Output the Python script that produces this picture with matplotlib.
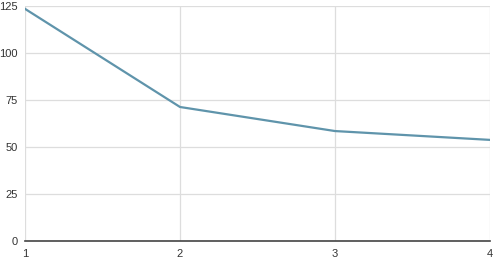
import matplotlib.pyplot as plt

x = [1, 2, 3, 4]
y = [123.5, 71.3, 58.5, 53.8]
yticks = [0, 25, 50, 75, 100, 125]

fig = plt.figure(figsize=(5, 2.62), dpi=100)
ax = fig.add_axes([0.05, 0.08, 0.93, 0.897])
ax.plot(x, y, color='#5f94ab', linewidth=1.6)
ax.set_xlim(1, 4)
ax.set_ylim(0, 125)
ax.set_xticks(x)
ax.set_yticks(yticks)
ax.grid(True, color='#dddddd', linewidth=0.9)
ax.set_axisbelow(True)
for s in ['top', 'right', 'left']:
    ax.spines[s].set_visible(False)
ax.spines['bottom'].set_color('#444444')
ax.spines['bottom'].set_linewidth(1.2)
ax.tick_params(length=0, labelsize=8, colors='#333333')
ax.tick_params(axis='x', pad=6)
ax.tick_params(axis='y', pad=5)
plt.setp(ax.get_xticklabels(), fontfamily='Liberation Sans')
plt.setp(ax.get_yticklabels(), fontfamily='Liberation Sans')
fig.savefig('out.png')
